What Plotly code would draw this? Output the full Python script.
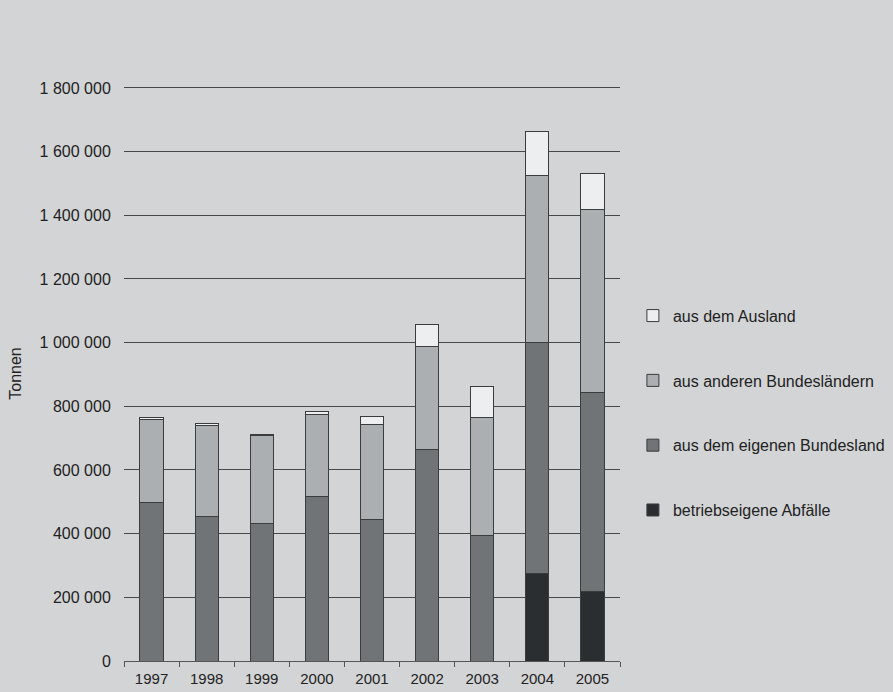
import plotly.graph_objects as go

# Werte in Tonnen
jahre = ['1997', '1998', '1999', '2000', '2001', '2002', '2003', '2004', '2005']
betriebseigene = [0, 0, 0, 0, 0, 0, 0, 274000, 218000]
eigenes_land = [498000, 454000, 433000, 517000, 446000, 664000, 393000, 726000, 625000]
andere_laender = [262000, 287000, 275000, 258000, 297000, 325000, 371000, 526000, 575000]
ausland = [5000, 6000, 4000, 10000, 26000, 69000, 97000, 138000, 113000]

y_ticks = [0, 200000, 400000, 600000, 800000, 1000000, 1200000, 1400000, 1600000, 1800000]

serien = [
    ('betriebseigene Abfälle', betriebseigene, '#2b2e30'),
    ('aus dem eigenen Bundesland', eigenes_land, '#707476'),
    ('aus anderen Bundesländern', andere_laender, '#abafb2'),
    ('aus dem Ausland', ausland, '#eceeef'),
]

bg = '#d3d4d6'

fig = go.Figure()
for i, (name, werte, farbe) in enumerate(serien):
    fig.add_trace(go.Bar(
        x=jahre, y=werte, name=name,
        marker=dict(color=farbe, line=dict(color='#3a3c3e', width=1)),
        legendgroup=f'g{i}', legendrank=10 - i,
        hovertemplate=name + '<br>%{x}: %{y:,.0f} t<extra></extra>'
    ))

fig.update_layout(
    barmode='stack',
    bargap=0.58,
    width=893, height=692,
    paper_bgcolor=bg, plot_bgcolor=bg,
    separators=', ',
    font=dict(family='Liberation Sans, Arial, sans-serif', size=16, color='#222222'),
    margin=dict(l=124, r=273, t=86, b=31, autoexpand=False),
    showlegend=True,
    legend=dict(
        x=1.026, xanchor='left', y=0.431, yanchor='middle',
        bgcolor='rgba(0,0,0,0)', font=dict(size=16, color='#222222'),
        tracegroupgap=41, itemwidth=30,
    ),
)

fig.update_xaxes(
    type='category', showgrid=False, showline=True, linecolor='#555555', linewidth=1,
    ticks='outside', tickson='boundaries', ticklen=5, tickcolor='#555555',
    ticklabelstandoff=4, tickfont=dict(size=15), automargin=False,
)
fig.update_yaxes(
    range=[0, 1806000], tickvals=y_ticks, tickformat=',d',
    showgrid=True, gridcolor='#474849', gridwidth=1, zeroline=False,
    showline=False, ticks='outside', ticklen=9, tickcolor='rgba(0,0,0,0)',
    tickfont=dict(size=16),
    title=dict(text='Tonnen', font=dict(size=16), standoff=14), automargin=False,
)

# Browser-Standardrand der Seite entfernen
fig.write_html('out.html', config={'displayModeBar': False},
               post_script="document.body.style.margin='0';")
